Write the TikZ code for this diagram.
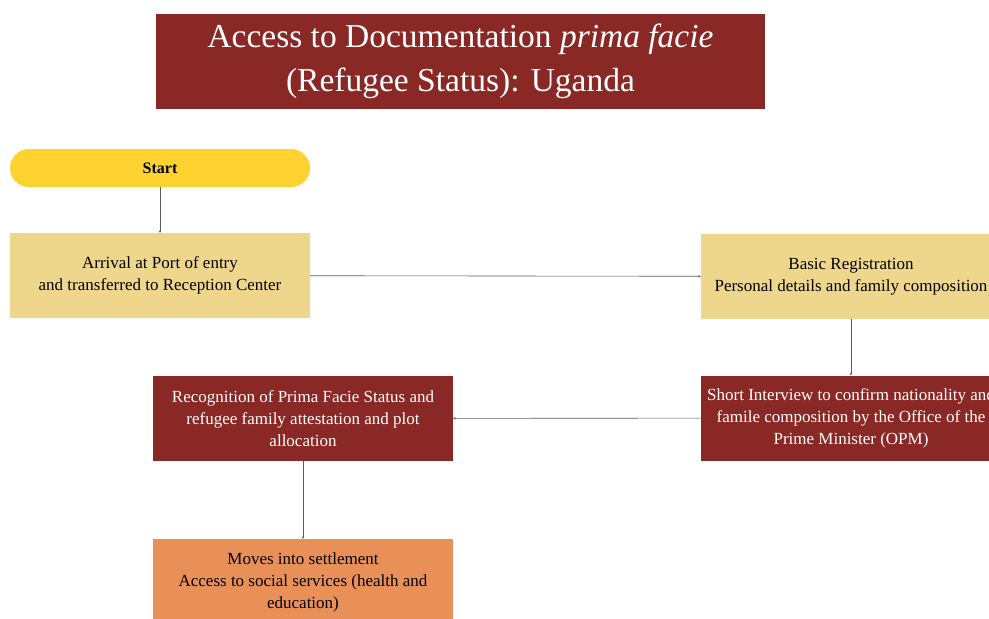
\documentclass[tikz,border=0pt]{standalone}
\usepackage{fontspec}
\setmainfont{Liberation Serif}
\usetikzlibrary{arrows.meta}

\definecolor{darkred}{HTML}{8A2825}
\definecolor{startyellow}{HTML}{FDD231}
\definecolor{paleyellow}{HTML}{EFD68D}
\definecolor{orangebox}{HTML}{E89058}
\definecolor{linegray}{HTML}{5A5A5A}

\tikzset{
  stepbox/.style={rectangle, minimum width=300pt, minimum height=85pt, align=center,
    font=\fontsize{17}{22}\selectfont, inner sep=0pt},
  paleboxstyle/.style={stepbox, fill=paleyellow, text=black},
  redbox/.style={stepbox, fill=darkred, text=white},
  link/.style={draw=linegray, line width=0.6pt, -{Stealth[length=2.5pt,width=2.5pt]}}
}

\begin{document}
\begin{tikzpicture}[x=1pt,y=-1pt]
\clip (0,0) rectangle (989,619);
\node [fill=darkred, text=white, minimum width=609pt, minimum height=95pt, align=center,
  font=\fontsize{33.5}{44}\selectfont, inner sep=0pt] (title) at (460.5,61.5)
  {Access to Documentation \textit{prima facie}\\(Refugee Status): Uganda};
\node [fill=startyellow, rounded corners=19pt, minimum width=300pt, minimum height=38pt,
  font=\fontsize{16}{18}\bfseries, inner sep=0pt] (start) at (160,168) {Start};
\node [paleboxstyle] (arrival) at (160,275.5) {Arrival at Port of entry\\and transferred to Reception Center};
\node [paleboxstyle] (basic) at (851,276.5) {Basic Registration\\Personal details and family composition};
\node [redbox] (interview) at (851,418) {Short Interview to confirm nationality and\\famile composition by the Office of the\\Prime Minister (OPM)};
\node [redbox] (recognition) at (303,418.5) {Recognition of Prima Facie Status and\\refugee family attestation and plot\\allocation};
\node [stepbox, fill=orangebox, minimum height=86pt] (settle) at (303,582) {Moves into settlement\\Access to social services (health and\\education)};
\draw [link] (start) -- (arrival);
\draw [link] (arrival) -- (basic);
\draw [link] (basic) -- (interview);
\draw [link] (interview) -- (recognition);
\draw [link] (recognition) -- (settle);
\end{tikzpicture}
\end{document}
